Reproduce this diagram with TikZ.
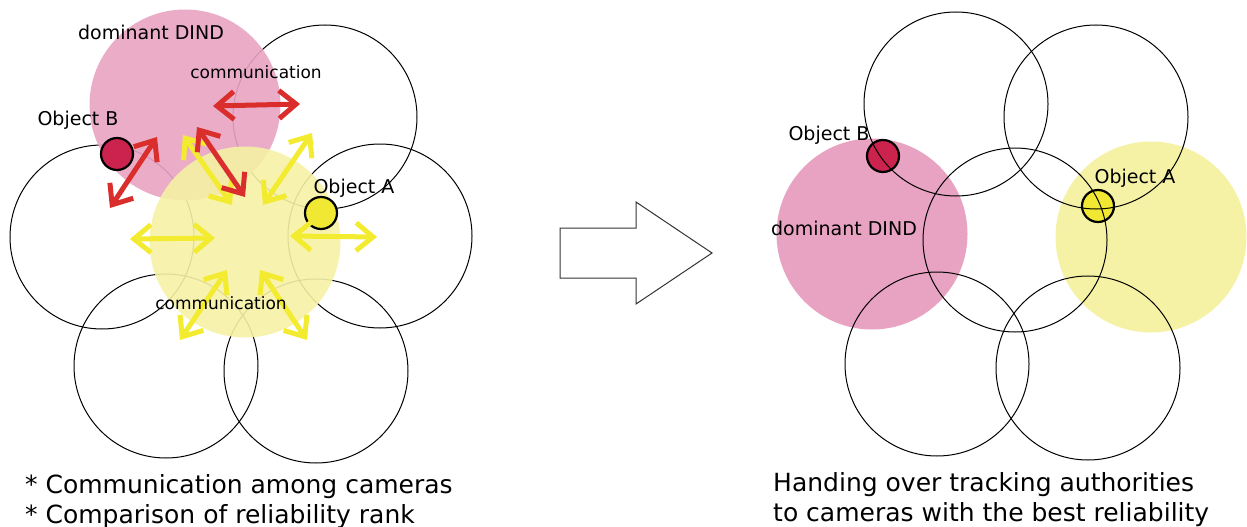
\documentclass[tikz,border=0pt]{standalone}
\usepackage{fontspec}
\setmainfont{DejaVu Sans}
\usepackage{xcolor}
\usepackage{tikz}
\usetikzlibrary{arrows.meta, positioning, calc}

\definecolor{pinkfill}{RGB}{233,163,194}
\definecolor{yellowfill}{RGB}{246,242,165}
\definecolor{objred}{RGB}{204,34,78}
\definecolor{objyellow}{RGB}{240,232,50}
\definecolor{arrred}{RGB}{218,46,44}
\definecolor{arryellow}{RGB}{243,235,48}

\tikzset{
	camera/.style={circle, draw, line width=1pt, minimum size=184pt, inner sep=0pt},
	dind/.style={circle, fill=#1, minimum size=191pt, inner sep=0pt},
	object/.style={circle, draw, line width=2.2pt, fill=#1, minimum size=32pt, inner sep=0pt},
	lbl/.style={font=\fontsize{19}{22}\selectfont, inner sep=0pt},
	commlbl/.style={font=\fontsize{17}{20}\selectfont, inner sep=0pt},
	comm/.style={<->, >={Straight Barb[length=17pt,width=28pt]}, line width=5pt, draw=#1},
	caption/.style={font=\fontsize{25}{30}\selectfont, align=left, inner sep=0pt, anchor=north west}
}

\begin{document}
\begin{tikzpicture}[x=1pt, y=-1pt]
		\useasboundingbox (0,0) rectangle (1247,527);

		% left: communication among cameras
		\node[camera] (Cam TR) at (325,117) {};
		\node[camera] (Cam L) at (102,237) {};
		\node[camera] (Cam R) at (380,236) {};
		\node[camera] (Cam BL) at (166,366) {};
		\node[camera] (Cam BR) at (316,371) {};
		\node[dind=pinkfill, fill opacity=0.9] (Dominant) at (185,105) {};
		\node[dind=yellowfill, fill opacity=0.9] (Center) at (245,242) {};

		\node[object=objred] (Object B) at (117,154) {};
		\node[object=objyellow] (Object A) at (321,213) {};

		\foreach \n/\x/\y in {y1a/183/135, y1b/232/205, y2a/312/133, y2b/263/205,
			y3a/130/239, y3b/215/238, y4a/290/236, y4b/377/237,
			y5a/227/270, y5b/180/340, y6a/260/270, y6b/307/340,
			r1a/213/106, r1b/300/104, r2a/157/137, r2b/110/208, r3a/197/127, r3b/245/197}
			\coordinate (\n) at (\x,\y);

		\draw[comm=arryellow] (y1a) -- (y1b);
		\draw[comm=arryellow] (y2a) -- (y2b);
		\draw[comm=arryellow] (y3a) -- (y3b);
		\draw[comm=arryellow] (y4a) -- (y4b);
		\draw[comm=arryellow] (y5a) -- (y5b);
		\draw[comm=arryellow] (y6a) -- (y6b);
		\draw[comm=arrred] (r1a) -- (r1b);
		\draw[comm=arrred] (r2a) -- (r2b);
		\draw[comm=arrred] (r3a) -- (r3b);

		\node[lbl] (Label DIND L) at (151,32) {dominant DIND};
		\node[commlbl] (Comm top) at (256,72) {communication};
		\node[lbl] (Label B L) at (78,120) {Object B};
		\node[lbl] (Label A L) at (354,188) {Object A};
		\node[commlbl] (Comm bottom) at (221,303) {communication};

		\node[caption] (Caption L) at (25,474) {* Communication among cameras\\
			* Comparison of reliability rank};

		% big arrow
		\draw[line width=1pt, draw=black!80] (560,228) -- (636,228) -- (636,202) -- (712,253)
			-- (636,304) -- (636,278) -- (560,278) -- cycle;

		% right: handing over
		\node[dind=pinkfill] (Dominant R) at (872,234) {};
		\node[dind=yellowfill] (Yellow R) at (1151,237) {};
		\node[object=objred] (Object B R) at (883,156) {};
		\node[object=objyellow] (Object A R) at (1098,206) {};
		\node[camera] (Cam T R) at (956,104) {};
		\node[camera] (Cam TR R) at (1096,117) {};
		\node[camera] (Cam C R) at (1015,240) {};
		\node[camera] (Cam BL R) at (937,364) {};
		\node[camera] (Cam BR R) at (1088,368) {};

		\node[lbl] (Label B R) at (829,135) {Object B};
		\node[lbl] (Label A R) at (1135,178) {Object A};
		\node[lbl] (Label DIND R) at (844,228) {dominant DIND};

		\node[caption] (Caption R) at (773,472) {Handing over tracking authorities\\
			to cameras with the best reliability};
	\end{tikzpicture}
\end{document}
